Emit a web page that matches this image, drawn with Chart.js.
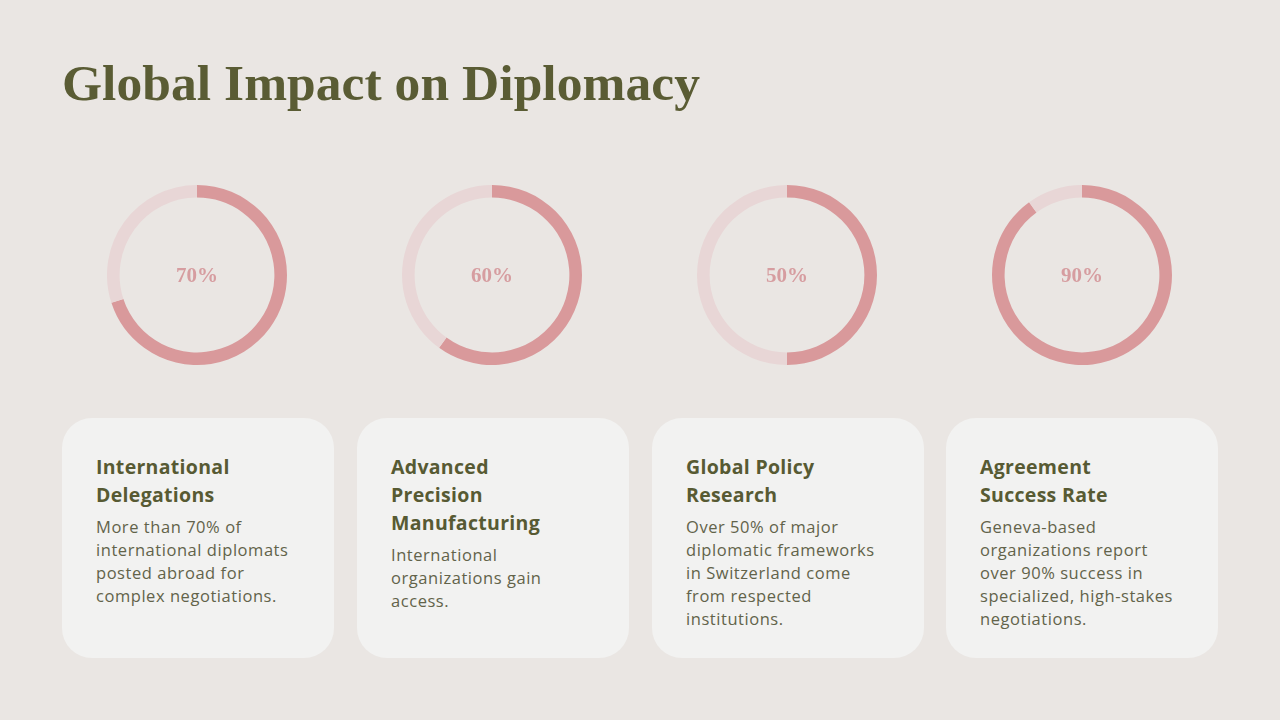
<!DOCTYPE html>
<html>
<head>
<meta charset="utf-8">
<script src="https://cdn.jsdelivr.net/npm/chart.js@4"></script>
<style>
  html, body { margin:0; padding:0; }
  body { width:1280px; height:720px; background:#EAE6E3; position:relative; overflow:hidden; font-family:"Open Sans",sans-serif; }
  h1 { position:absolute; left:62px; top:53px; margin:0; font-family:"Liberation Serif",serif; font-weight:bold; font-size:51.5px; color:#5A5C34; letter-spacing:0.05px; line-height:60px; }
  .donut { position:absolute; width:180px; height:180px; }
  .donut canvas { width:180px !important; height:180px !important; }
  .pct { position:absolute; width:180px; left:0; top:0; height:180px; line-height:180px; text-align:center; font-family:"Liberation Serif",serif; font-weight:bold; font-size:21px; color:#D69DA0; }
  .card { position:absolute; top:418px; width:272px; height:240px; background:#F2F2F1; border-radius:30px; box-sizing:border-box; padding:35px 6px 0 34px; }
  .card h2 { margin:0; font-size:19.5px; font-weight:bold; line-height:28px; color:#575A33; letter-spacing:0.3px; }
  .card p { margin:6px 0 0 0; font-size:16.5px; line-height:23px; color:#62634A; letter-spacing:0.55px; }
</style>
</head>
<body>
<h1 id="title"></h1>
<div id="root"></div>
<script>
const titleText = "Global Impact on Diplomacy";
const values = [70, 60, 50, 90];
const labels = ["70%", "60%", "50%", "90%"];
const cardTitles = [
  ["International", "Delegations"],
  ["Advanced", "Precision", "Manufacturing"],
  ["Global Policy", "Research"],
  ["Agreement", "Success Rate"]
];
const cardTexts = [
  ["More than 70% of", "international diplomats", "posted abroad for", "complex negotiations."],
  ["International", "organizations gain", "access."],
  ["Over 50% of major", "diplomatic frameworks", "in Switzerland come", "from respected", "institutions."],
  ["Geneva-based", "organizations report", "over 90% success in", "specialized, high-stakes", "negotiations."]
];

document.getElementById('title').textContent = titleText;
const root = document.getElementById('root');
const centersX = [197, 492, 787, 1082];
const cardX = [62, 357, 652, 946];

values.forEach((v, i) => {
  const d = document.createElement('div');
  d.className = 'donut';
  d.style.left = (centersX[i] - 90) + 'px';
  d.style.top = (275 - 90) + 'px';
  const c = document.createElement('canvas');
  c.width = 180; c.height = 180;
  d.appendChild(c);
  const t = document.createElement('div');
  t.className = 'pct';
  t.textContent = labels[i];
  d.appendChild(t);
  root.appendChild(d);

  new Chart(c, {
    type: 'doughnut',
    data: {
      labels: ['value', 'rest'],
      datasets: [{
        data: [v, 100 - v],
        backgroundColor: ['#D9999B', '#E8D6D6'],
        borderWidth: 0,
        hoverOffset: 0
      }]
    },
    options: {
      responsive: false,
      animation: false,
      cutout: '86%',
      plugins: { legend: { display: false }, tooltip: { enabled: false } },
      layout: { padding: 0 }
    }
  });

  const card = document.createElement('div');
  card.className = 'card';
  card.style.left = cardX[i] + 'px';
  const h = document.createElement('h2');
  h.innerHTML = cardTitles[i].join('<br>');
  const p = document.createElement('p');
  p.innerHTML = cardTexts[i].join('<br>');
  card.appendChild(h);
  card.appendChild(p);
  root.appendChild(card);
});
</script>
</body>
</html>
